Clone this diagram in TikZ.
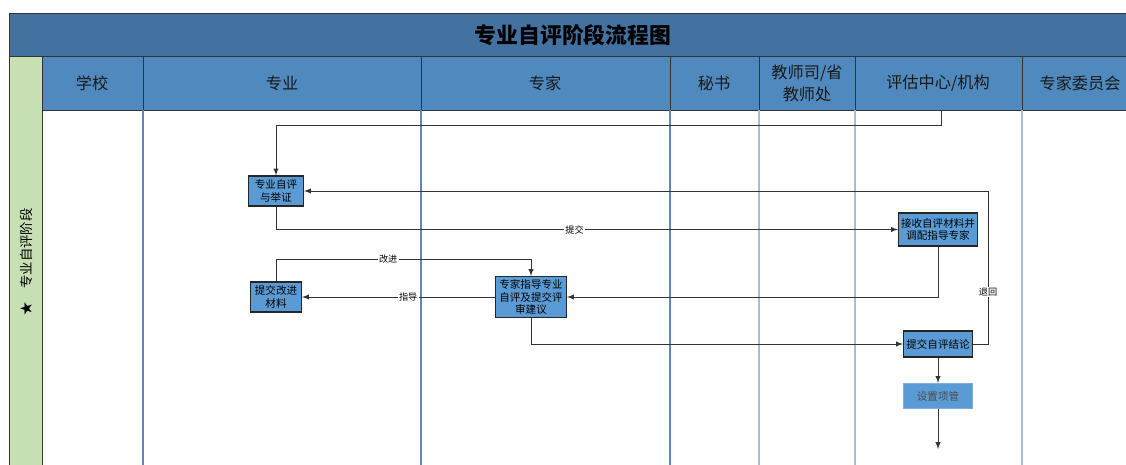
\documentclass[tikz,border=0pt]{standalone}
\usepackage{fontspec}
\setmainfont{Noto Sans CJK SC}
\usepackage{tikz}
\definecolor{titleblue}{RGB}{68,114,160}
\definecolor{headblue}{RGB}{79,137,189}
\definecolor{boxblue}{RGB}{91,155,213}
\definecolor{phasegreen}{RGB}{198,224,180}
\definecolor{laneblue}{RGB}{95,135,185}
\definecolor{lanepale}{RGB}{168,190,216}

\begin{document}
\begin{tikzpicture}[x=0.025cm,y=-0.025cm,>=latex,
	cell/.style={draw=black!80,line width=0.7pt},
	lane/.style={draw=laneblue,line width=0.8pt},
	procbox/.style={draw=black!85,fill=boxblue,line width=0.8pt,align=center,font=\fontsize{7.5}{9}\selectfont,inner sep=1pt},
	flow/.style={->,draw=black!80,line width=0.7pt},
	lbl/.style={fill=white,inner sep=1pt,font=\fontsize{6.5}{7}\selectfont}]
	\useasboundingbox (0,0) rectangle (1126,465);
	\draw[cell,fill=titleblue] (9,13) rectangle (1135,56);
	\node[font=\fontsize{15.5}{18}\selectfont\bfseries] (title) at (573,35) {专业自评阶段流程图};
	\draw[cell,fill=phasegreen] (9,56) rectangle (42,470);
	\node[rotate=90,font=\fontsize{9.5}{10}\selectfont] (phase) at (26,262) {★\quad 专业自评阶段};
	\foreach \a/\b in {42/143,143/421,421/670,670/759,759/855,855/1022,1022/1135}
		\draw[cell,fill=headblue] (\a,56) rectangle (\b,110);
	\foreach \c/\t in {92/学校,282/专业,545/专家,714/秘书,807/{教师司/省\\教师处},938/{评估中心/机构},1080/专家委员会}
		\node[align=center,font=\fontsize{11.5}{15.5}\selectfont,text=black!90] at (\c,83) {\t};
	\foreach \x in {143,421,670}
		\draw[lane] (\x,110.5) -- (\x,465);
	\foreach \x in {759,855,1022}
		\draw[lane,draw=lanepale] (\x,110.5) -- (\x,465);

	\node[procbox,minimum width=1.375cm,minimum height=0.75cm] (selfeval) at (276,191) {专业自评\\与举证};
	\node[procbox,minimum width=1.975cm,minimum height=0.825cm] (receive) at (938,229.5) {接收自评材料并\\调配指导专家};
	\node[procbox,minimum width=1.775cm,minimum height=1.025cm] (guide) at (531,297) {专家指导专业\\自评及提交评\\审建议};
	\node[procbox,minimum width=1.275cm,minimum height=0.75cm] (improve) at (276,297) {提交改进\\材料};
	\node[procbox,minimum width=1.725cm,minimum height=0.65cm] (conclude) at (938,344) {提交自评结论};
	\node[procbox,draw=boxblue!80,text=black!70,minimum width=1.725cm,minimum height=0.625cm] (manage) at (938,396) {设置项管};
	\coordinate (start) at (941,110.5);

	\draw[flow] (start) -- (941,125) -| (selfeval);
	\draw[flow] (selfeval) |- (receive) node[lbl,pos=0.74] {提交};
	\draw[flow] (receive) |- (guide);
	\draw[flow] (guide) -- (improve) node[lbl,pos=0.45] {指导};
	\draw[flow] (improve.north) -- ++(0,-22) -| (guide.north) node[lbl,pos=0.22] {改进};
	\draw[flow] (guide) |- (conclude);
	\draw[flow] (conclude.east) -- ++(15,0) |- (selfeval.east) node[lbl,pos=0.17] {退回};
	\draw[flow] (conclude) -- (manage);
	\draw[flow] (manage.south) -- ++(0,40);
\end{tikzpicture}
\end{document}
